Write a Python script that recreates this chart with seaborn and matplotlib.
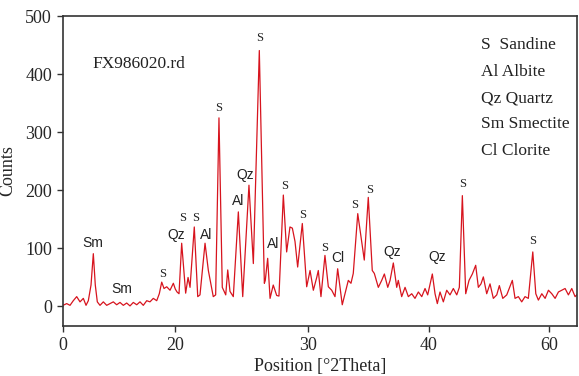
import numpy as np
import pandas as pd
import matplotlib
matplotlib.use("Agg")
import matplotlib.pyplot as plt
import seaborn as sns

# ---- data ----
two_theta = [0.0, 0.66, 1.25, 1.83, 2.44, 3.03, 3.62, 4.10, 4.51, 4.99, 5.40, 5.75, 6.11, 6.59,
             7.18, 7.78, 8.37, 8.96, 9.56, 10.15, 10.74, 11.34, 11.93, 12.52, 13.13, 13.71,
             14.30, 14.91, 15.49, 16.08, 16.69, 17.15, 17.58, 17.99, 18.47, 19.06, 19.65, 20.0,
             20.13, 20.28, 20.48, 20.78, 20.96, 21.11, 21.43, 21.69, 21.86, 22.24, 22.49, 22.86,
             23.04, 23.29, 23.54, 23.80, 23.95, 24.12, 24.37, 24.75, 25.08, 25.55, 25.88, 26.33,
             26.71, 26.78, 26.96, 27.14, 27.38, 27.64, 27.81, 28.14, 28.39, 28.64, 28.82, 29.02,
             29.22, 29.57, 29.90, 30.17, 30.44, 30.72, 30.85, 31.07, 31.40, 31.68, 31.96, 32.23,
             32.45, 32.64, 32.83, 33.06, 33.33, 33.55, 33.74, 34.11, 34.38, 34.65, 34.98, 35.31,
             35.48, 35.81, 36.09, 36.31, 36.59, 36.78, 37.05, 37.33, 37.46, 37.74, 38.02, 38.29,
             38.57, 38.84, 39.12, 39.40, 39.67, 39.89, 40.55, 41.0, 41.38, 41.83, 42.38, 42.94,
             43.49, 44.04, 44.61, 45.04, 45.54, 46.10, 46.65, 47.20, 47.76, 48.20, 48.64, 49.03,
             49.59, 50.14, 50.69, 51.26, 51.69, 52.26, 52.92, 53.85, 54.30, 54.85, 55.41, 55.96,
             56.51, 57.25, 57.75, 58.18, 58.75, 59.30, 59.85, 60.41, 60.96, 61.51, 62.07, 62.62,
             63.17, 63.73, 64.28, 64.73]
counts = [2, 5, 2, 10, 17, 8, 14, 2, 10, 37, 91, 37, 8, 2,
          8, 2, 5, 8, 3, 7, 2, 6, 1, 7, 3, 8,
          2, 10, 8, 14, 10, 22, 42, 31, 34, 28, 40, 30,
          25, 22, 109, 23, 50, 33, 137, 17, 20, 109, 62, 17,
          20, 325, 33, 20, 63, 26, 17, 163, 17, 209, 74, 441,
          40, 45, 83, 14, 37, 19, 18, 192, 94, 137, 135, 112,
          68, 143, 34, 62, 28, 50, 62, 17, 88, 34, 28, 17,
          65, 34, 3, 22, 45, 40, 57, 160, 120, 80, 188, 62,
          57, 33, 45, 56, 33, 45, 75, 33, 45, 17, 33, 17,
          22, 14, 25, 17, 31, 20, 56, 22, 5, 25, 8, 28,
          20, 31, 20, 33, 191, 22, 45, 56, 71, 33, 39, 51,
          22, 39, 14, 20, 36, 14, 20, 45, 14, 17, 8, 17,
          14, 94, 22, 11, 22, 14, 28, 22, 14, 25, 28, 31,
          20, 31, 17, 22]

peak_labels = ["Sm", "Sm", "S", "Qz", "S", "S", "Al", "S", "Al", "Qz", "S", "Al", "S", "S",
               "S", "Cl", "S", "S", "Qz", "Qz", "S", "S"]
label_x = [5.35, 10.45, 17.75, 20.1, 20.56, 21.56, 22.29, 23.3, 24.75, 25.26, 26.33, 27.4,
           28.2, 29.6, 31.4, 32.45, 33.83, 35.07, 36.97, 41.28, 45.54, 57.25]
label_y = [109, 30, 56, 123, 153, 153, 124, 342, 181, 227, 462, 107,
           207, 158, 100, 83, 175, 200, 94, 86, 211, 112]

legend_lines = ["S  Sandine", "Al Albite", "Qz Quartz", "Sm Smectite", "Cl Clorite"]
sample_name = "FX986020.rd"
x_ticks = [0, 20, 30, 40, 60]
y_ticks = [0, 100, 200, 300, 400, 500]

df = pd.DataFrame({"two_theta": two_theta, "counts": counts})

# ---- style ----
sns.set_style("white")
plt.rcParams["font.family"] = ["Liberation Serif", "DejaVu Serif"]

fig = plt.figure(figsize=(5.79, 3.76), dpi=100)
ax = fig.add_axes([63 / 579, 1 - 326 / 376, 514 / 579, 310 / 376])

# the original axis is not evenly spaced between its labelled ticks
kx = np.array([-1000, 0, 20, 30, 40, 60, 1000], dtype=float)
kp = np.array([-1000 * 5.615, 0, 112.3, 245.0, 366.0, 486.3, 486.3 + 940 * 6.015])
fwd = lambda v: np.interp(v, kx, kp)
inv = lambda v: np.interp(v, kp, kx)
ax.set_xscale("function", functions=(fwd, inv))

sns.lineplot(data=df, x="two_theta", y="counts", ax=ax, color="#d7141e",
             linewidth=0.9, estimator=None, sort=False)

ax.set_xlim(0, 64.6)
ax.set_ylim(-33.6, 500.5)
ax.set_xticks(x_ticks)
ax.set_xticklabels([str(t) for t in x_ticks])
ax.set_yticks(y_ticks)
ax.set_yticklabels([str(t) for t in y_ticks])
ax.tick_params(axis="both", which="both", direction="out", length=4, width=1,
               color="#333333", labelsize=13, pad=4, top=False, right=False,
               bottom=True, left=True)
ax.minorticks_off()
for s in ax.spines.values():
    s.set_color("#333333")
    s.set_linewidth(1.2)

ax.set_xlabel("Position [°2Theta]", fontsize=13, labelpad=3)
ax.set_ylabel("Counts", fontsize=13, labelpad=6)

for lab, lx, ly in zip(peak_labels, label_x, label_y):
    if lab == "S":
        ax.text(lx, ly, lab, ha="center", va="center", fontsize=9,
                family=["Liberation Serif"], color="#222222")
    else:
        ax.text(lx, ly, lab, ha="center", va="center", fontsize=10,
                family=["Liberation Sans"], color="#222222")

ax.text(0.058, 0.845, sample_name, transform=ax.transAxes, fontsize=12.5,
        ha="left", va="center", color="#222222")
for i, line in enumerate(legend_lines):
    ax.text(0.813, 0.905 - i * 0.085, line, transform=ax.transAxes, fontsize=12.5,
            ha="left", va="center", color="#222222")

fig.savefig("out.png", dpi=100)
